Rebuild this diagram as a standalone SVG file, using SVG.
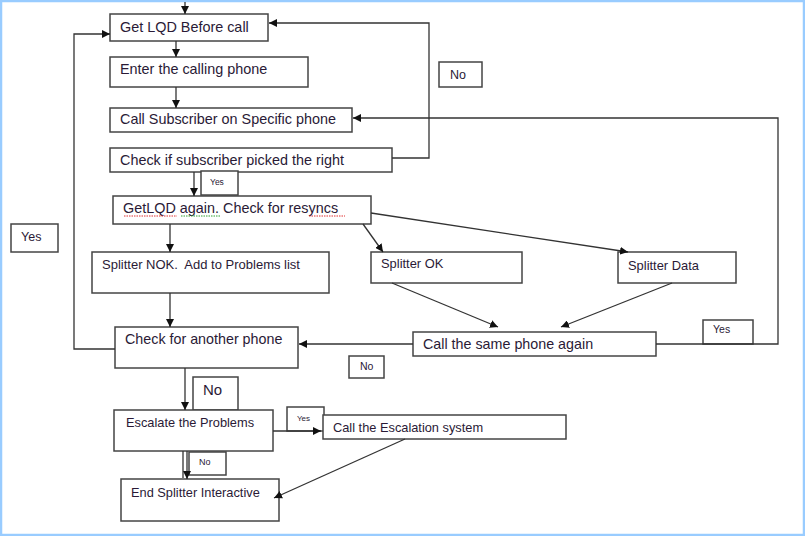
<svg xmlns="http://www.w3.org/2000/svg" width="805" height="536" viewBox="0 0 805 536">
<defs>
<marker id="ah" viewBox="0 0 10 10" refX="10" refY="5" markerWidth="8" markerHeight="8" markerUnits="userSpaceOnUse" orient="auto">
<path d="M0,0 L10,5 L0,10 z" fill="#111"/>
</marker>
</defs>
<style>
.box{fill:#fff;stroke:#444;stroke-width:1.5}
.t{font-family:"Liberation Sans",Arial,sans-serif;fill:#2a1a36;white-space:pre}
.c{fill:none;stroke:#333;stroke-width:1.3}
.a{marker-end:url(#ah)}
.sq{fill:none;stroke-width:1;stroke-dasharray:1.5 1}
</style>
<rect x="0" y="0" width="805" height="536" fill="#fff"/>
<rect x="1" y="1" width="803" height="534" fill="none" stroke="#99ccff" stroke-width="2.5"/>

<g id="n1"><rect class="box" x="110" y="14" width="158" height="27"/><text class="t" x="120" y="32" font-size="14.4">Get LQD Before call</text></g>
<g id="n2"><rect class="box" x="110" y="57" width="198" height="30"/><text class="t" x="120" y="74" font-size="14.4">Enter the calling phone</text></g>
<g id="n3"><rect class="box" x="110" y="108" width="242" height="24"/><text class="t" x="120" y="124" font-size="14.4">Call Subscriber on Specific phone</text></g>
<g id="n4"><rect class="box" x="110" y="148" width="282" height="24"/><text class="t" x="120" y="165" font-size="14.4">Check if subscriber picked the right</text></g>
<g id="l-yes1"><rect class="box" x="201" y="171" width="37" height="24"/><text class="t" x="210" y="185" font-size="8.5">Yes</text></g>
<g id="l-no1"><rect class="box" x="439" y="62" width="43" height="25"/><text class="t" x="450" y="79" font-size="12.5">No</text></g>
<g id="n5"><rect class="box" x="113" y="196" width="258" height="28"/><text class="t" x="123" y="213" font-size="14.4">GetLQD again. Check for resyncs</text>
<path class="sq" stroke="#e03030" d="M124,216 H177"/><path class="sq" stroke="#30a030" d="M181,216 H220"/><path class="sq" stroke="#e03030" d="M309,216 H345"/></g>
<g id="l-yes2"><rect class="box" x="11" y="224" width="47" height="28"/><text class="t" x="21" y="241" font-size="12.5">Yes</text></g>
<g id="n6"><rect class="box" x="92" y="252" width="237" height="41"/><text class="t" x="102" y="269" font-size="13" xml:space="preserve">Splitter NOK.  Add to Problems list</text></g>
<g id="n7"><rect class="box" x="371" y="252" width="151" height="31"/><text class="t" x="381" y="268" font-size="12.9">Splitter OK</text></g>
<g id="n8"><rect class="box" x="618" y="252" width="118" height="31"/><text class="t" x="628" y="270" font-size="12.9">Splitter Data</text></g>
<g id="n9"><rect class="box" x="115" y="327" width="183" height="41"/><text class="t" x="125" y="344" font-size="14.3">Check for another phone</text></g>
<g id="n10"><rect class="box" x="413" y="332" width="243" height="24"/><text class="t" x="423" y="349" font-size="14.3">Call the same phone again</text></g>
<g id="l-yes3"><rect class="box" x="703" y="320" width="50" height="24"/><text class="t" x="713" y="333" font-size="10.5">Yes</text></g>
<g id="l-no2"><rect class="box" x="349" y="356" width="35" height="22"/><text class="t" x="360" y="370" font-size="10.5">No</text></g>
<g id="l-no3"><rect class="box" x="193" y="377" width="45" height="33"/><text class="t" x="203" y="395" font-size="15">No</text></g>
<g id="n11"><rect class="box" x="114" y="410" width="159" height="41"/><text class="t" x="126" y="427" font-size="12.8">Escalate the Problems</text></g>
<g id="l-yes4"><rect class="box" x="287" y="407" width="37" height="24"/><text class="t" x="297" y="421" font-size="8">Yes</text></g>
<g id="n12"><rect class="box" x="323" y="415" width="243" height="24"/><text class="t" x="333" y="432" font-size="12.8">Call the Escalation system</text></g>
<g id="l-no4"><rect class="box" x="189" y="452" width="37" height="23"/><text class="t" x="199" y="465" font-size="9">No</text></g>
<g id="n13"><rect class="box" x="121" y="479" width="158" height="42"/><text class="t" x="131" y="497" font-size="12.8">End Splitter Interactive</text></g>

<g id="connectors">
<path class="c a" d="M185,2 V14"/>
<path class="c a" d="M176,41 V57"/>
<path class="c a" d="M176,87 V108"/>
<path class="c a" d="M392,158 H429 V23 H269"/>
<path class="c a" d="M194,172 V196"/>
<path class="c a" d="M170,224 V252"/>
<path class="c a" d="M363,224 L383,252"/>
<path class="c a" d="M371,213 L628,252"/>
<path class="c a" d="M170,293 V327"/>
<path class="c a" d="M392,283 L498,327"/>
<path class="c a" d="M672,283 L561,327"/>
<path class="c a" d="M115,349 H74 V34 H110"/>
<path class="c a" d="M413,344 H299"/>
<path class="c a" d="M656,344 H778 V118 H353"/>
<path class="c a" d="M185,368 V410"/>
<path class="c a" d="M273,431 H321"/>
<path class="c" d="M183,451 V478"/>
<path class="c a" d="M187,451 V479"/>
<path class="c a" d="M405,439 L274,498"/>
</g>
</svg>
